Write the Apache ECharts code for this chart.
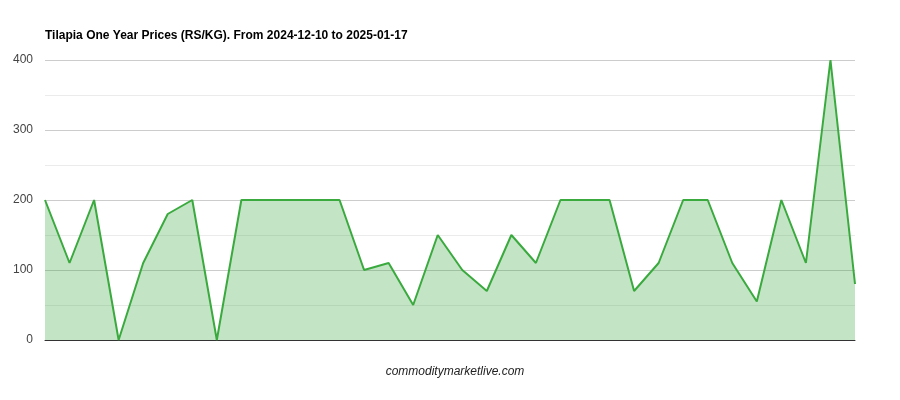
<!DOCTYPE html>
<html>
<head>
<meta charset="utf-8">
<script src="https://cdn.jsdelivr.net/npm/echarts@6/dist/echarts.min.js"></script>
<style>html,body{margin:0;padding:0;background:#fff}#c{width:900px;height:400px}</style>
</head>
<body>
<div id="c"></div>
<script>
var titleText = 'Tilapia One Year Prices (RS/KG). From 2024-12-10 to 2025-01-17';
var footerText = 'commoditymarketlive.com';
var categories = ['1','2','3','4','5','6','7','8','9','10','11','12','13','14','15','16','17','18','19','20','21','22','23','24','25','26','27','28','29','30','31','32','33','34'];
var prices = [200,110,200,0,110,180,200,0,200,200,200,200,200,100,110,50,150,100,70,150,110,200,200,200,70,110,200,200,110,55,200,110,400,80];
var yTicks = [0,100,200,300,400];

var chart = echarts.init(document.getElementById('c'));
chart.setOption({
  animation: false,
  backgroundColor: '#fff',
  title: [{
    text: titleText, left: 40, top: 25,
    textStyle: {fontFamily: 'Liberation Sans, Arial', fontSize: 12, fontWeight: 'bold', color: '#000'}
  }, {
    text: footerText, left: 450, top: 361, textAlign: 'center',
    textStyle: {fontFamily: 'Liberation Sans, Arial', fontSize: 12, fontWeight: 'normal', fontStyle: 'italic', color: '#222'}
  }],
  grid: {left: 45, right: 45, top: 60, bottom: 60, containLabel: false},
  xAxis: {
    type: 'category', data: categories, boundaryGap: false,
    axisLabel: {show: false}, axisTick: {show: false},
    axisLine: {show: true, lineStyle: {color: '#333', width: 1}},
    splitLine: {show: false}
  },
  yAxis: {
    type: 'value', min: yTicks[0], max: yTicks[yTicks.length - 1], interval: 100,
    axisLine: {show: false}, axisTick: {show: false},
    axisLabel: {fontFamily: 'Liberation Sans, Arial', fontSize: 12, color: '#444', margin: 12},
    splitLine: {show: true, lineStyle: {color: '#cccccc', width: 1}},
    minorTick: {show: false, splitNumber: 2},
    minorSplitLine: {show: true, lineStyle: {color: '#ebebeb', width: 1}}
  },
  series: [{
    type: 'line', data: prices, symbol: 'none',
    lineStyle: {color: '#3aaa3f', width: 2},
    itemStyle: {color: '#3aaa3f'},
    areaStyle: {color: '#3aaa3f', opacity: 0.3}
  }]
});
</script>
</body>
</html>
